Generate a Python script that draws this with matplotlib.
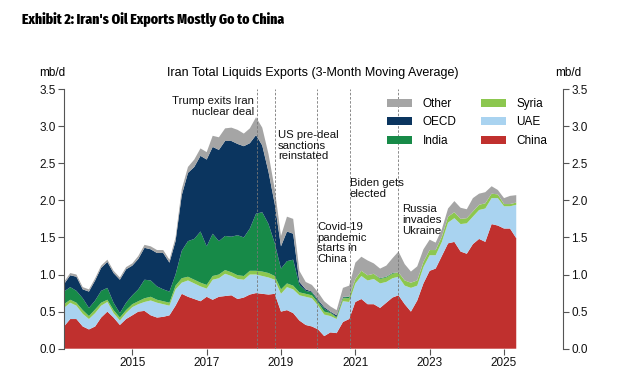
import numpy as np
import pandas as pd
import matplotlib
matplotlib.use("Agg")
import matplotlib.pyplot as plt
import matplotlib.dates as mdates

plt.rcParams['font.family'] = ['Liberation Sans', 'DejaVu Sans']

# bi-monthly points, Mar 2013 .. May 2025 (mb/d, 3-month moving avg)
dates = pd.date_range("2013-03-01", periods=74, freq="2MS")

china = [.30, .40, .40, .30, .26,
         .30, .42, .50, .42, .32, .40,
         .45, .50, .51, .45, .42, .43,
         .45, .58, .74, .70, .67, .64,
         .70, .66, .70, .71, .72, .67,
         .69, .73, .75, .74, .73, .74,
         .50, .52, .48, .38, .32, .30,
         .26, .17, .22, .21, .36, .40,
         .63, .67, .60, .60, .55, .62,
         .69, .72, .60, .50, .65, .88,
         1.05, 1.08, 1.25, 1.42, 1.44, 1.31,
         1.28, 1.41, 1.48, 1.44, 1.68, 1.66,
         1.62, 1.62, 1.49]
uae = [.25, .22, .18, .17, .14,
       .18, .16, .13, .06, .06, .08,
       .11, .10, .12, .20, .20, .17,
       .13, .22, .15, .22, .21, .20,
       .11, .27, .25, .30, .26, .27,
       .24, .27, .25, .24, .23, .19,
       .24, .31, .32, .34, .38, .38,
       .32, .29, .22, .19, .28, .23,
       .25, .31, .32, .34, .33, .28,
       .26, .25, .25, .32, .20, .22,
       .21, .18, .19, .28, .32, .37,
       .41, .37, .39, .45, .35, .37,
       .30, .30, .45]
syria = [.05, .04, .04, .05, .04,
         .05, .04, .03, .04, .04, .04,
         .04, .04, .05, .05, .04, .04,
         .04, .05, .06, .05, .05, .05,
         .05, .05, .05, .05, .05, .05,
         .05, .05, .05, .06, .06, .05,
         .06, .05, .05, .04, .04, .04,
         .04, .04, .04, .02, .04, .05,
         .06, .07, .07, .07, .06, .06,
         .06, .06, .07, .07, .07, .07,
         .07, .07, .07, .08, .08, .07,
         .07, .07, .07, .07, .06, .05,
         .03, .03, .03]
india = [.17, .17, .16, .16, .11,
         .12, .16, .16, .10, .06, .10,
         .12, .16, .25, .22, .18, .16,
         .15, .15, .37, .48, .55, .69,
         .52, .57, .45, .46, .48, .54,
         .52, .57, .77, .80, .66, .44,
         .28, .30, .35, .10, .04, .04,
         .02, .04, .01, .01, .01, .02,
         0, 0, 0, 0, .01, .01,
         .01, 0, 0, 0, 0, 0,
         0, 0, 0, 0, 0, 0,
         0, 0, 0, 0, 0, 0,
         0, 0, 0]
oecd = [.10, .16, .19, .12, .22,
        .27, .31, .35, .40, .45, .45,
        .40, .41, .43, .42, .45, .49,
        .39, .45, .75, .92, .97, 1.02,
        1.17, 1.17, 1.23, 1.28, 1.29, 1.23,
        1.23, 1.15, 1.06, .90, .70, .53,
        .30, .40, .35, .04, .02, .01,
        .02, .02, .01, .02, .01, 0,
        0, 0, 0, 0, 0, 0,
        0, 0, 0, 0, 0, 0,
        0, 0, 0, 0, 0, 0,
        0, 0, 0, 0, 0, 0,
        0, 0, 0]
other = [.03, .03, .03, .03, .03,
         .03, .03, .03, .03, .03, .03,
         .03, .04, .04, .04, .04, .04,
         .04, .05, .08, .08, .10, .10,
         .10, .15, .17, .17, .18, .19,
         .17, .20, .24, .24, .24, .20,
         .14, .20, .20, .15, .10, .09,
         .10, .08, .07, .07, .12, .15,
         .22, .19, .20, .14, .13, .15,
         .20, .28, .22, .15, .19, .17,
         .14, .10, .10, .11, .15, .15,
         .12, .18, .15, .15, .10, .06,
         .08, .11, .10]

events = [("2018-05-08", "Trump exits Iran\nnuclear deal"),
          ("2018-11-05", "US pre-deal\nsanctions\nreinstated"),
          ("2019-12-20", "Covid-19\npandemic\nstarts in\nChina"),
          ("2020-11-07", "Biden gets\nelected"),
          ("2022-02-24", "Russia\ninvades\nUkraine")]

colors = {"China": "#C0302E", "UAE": "#A9D3F0", "Syria": "#8CC74F",
          "India": "#178A48", "OECD": "#0B355F", "Other": "#A5A5A5"}

fig = plt.figure(figsize=(6.18, 3.72), dpi=100)
ax = fig.add_axes([0.1036, 0.0626, 0.807, 0.698])

series = [china, uae, syria, india, oecd, other]
names = ["China", "UAE", "Syria", "India", "OECD", "Other"]
polys = ax.stackplot(dates, *series, colors=[colors[n] for n in names],
                     labels=names, linewidth=0)

# event lines + notes
for d, txt in events:
    ax.axvline(pd.Timestamp(d), color="#777777", lw=0.6, ls=(0, (3, 2)), zorder=3)
notes = {0: (-3, 3.41, "right"), 1: (3, 2.95, "left"), 2: (0, 1.71, "left"),
         3: (0, 2.30, "left"), 4: (4, 1.95, "left")}
for i, (d, txt) in enumerate(events):
    dx, y, ha = notes[i]
    ax.text(pd.Timestamp(d) + pd.Timedelta(days=dx * 10), y, txt, ha=ha, va="top",
            fontsize=8.2, linespacing=1.1, color="#111111", zorder=4)

ax.set_xlim(pd.Timestamp("2013-03-01"), pd.Timestamp("2026-08-01"))
ax.set_ylim(0, 3.5)
yt = np.arange(0, 3.51, 0.5)
ax.set_yticks(yt)
ax.set_yticklabels([f"{v:.1f}" for v in yt])
ax.set_xticks([pd.Timestamp(f"{y}-01-01") for y in range(2015, 2026, 2)])
ax.xaxis.set_major_formatter(mdates.DateFormatter("%Y"))

ax2 = ax.twinx()
ax2.set_ylim(0, 3.5)
ax2.set_yticks(yt)
ax2.set_yticklabels([f"{v:.1f}" for v in yt])

for a in (ax, ax2):
    a.spines["top"].set_visible(False)
    a.spines["bottom"].set_visible(False)
    for s in ("left", "right"):
        a.spines[s].set_color("#555555")
        a.spines[s].set_linewidth(0.8)
    a.tick_params(axis="both", labelsize=8.5, color="#555555", length=4,
                  width=0.8, pad=2, labelcolor="#111111")
ax2.spines["left"].set_visible(False)
ax.spines["right"].set_visible(False)

# legend: Other/OECD/India | Syria/UAE/China
h = dict(zip(names, polys))
order = ["Other", "OECD", "India", "Syria", "UAE", "China"]
ax.legend([h[n] for n in order], order, ncol=2, frameon=False,
          loc="upper left", bbox_to_anchor=(387 / 618, 1 - 98 / 372),
          bbox_transform=fig.transFigure, fontsize=8.5, borderpad=0,
          borderaxespad=0, handlelength=2.1, handletextpad=0.9,
          columnspacing=2.1, labelspacing=0.55)

# title in a condensed heavy face, sized so it spans ~263 px like the original
title = fig.text(22 / 618, 1 - 20 / 372, "Exhibit 2: Iran's Oil Exports Mostly Go to China",
                 family=["Fira Sans Extra Condensed", "Fira Sans Condensed",
                         "Barlow Condensed", "Asap Condensed", "DejaVu Sans"],
                 weight="heavy", fontsize=13, va="center", ha="left")
r = fig.canvas.get_renderer()
w = title.get_window_extent(r).width
title.set_fontsize(13 * 263 / w)

fig.text(313 / 618, 1 - 73 / 372, "Iran Total Liquids Exports (3-Month Moving Average)",
         fontsize=9, ha="center", va="center")
fig.text(52 / 618, 1 - 73 / 372, "mb/d", fontsize=8.5, ha="center", va="center")
fig.text(568 / 618, 1 - 73 / 372, "mb/d", fontsize=8.5, ha="center", va="center")

fig.savefig("out.png", dpi=100)
